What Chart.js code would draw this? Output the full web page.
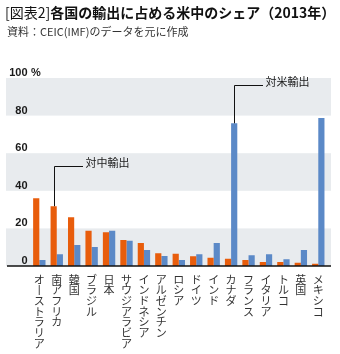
<!DOCTYPE html>
<html lang="ja">
<head>
<meta charset="utf-8">
<script src="https://cdn.jsdelivr.net/npm/chart.js@4.4.1/dist/chart.umd.min.js"></script>
<style>
  html, body { margin: 0; padding: 0; background: #fff; }
  #wrap { position: relative; width: 340px; height: 354px; }
  #title { position: absolute; left: 5px; top: 2px; font: 700 14px "Noto Sans CJK JP"; color: #111; white-space: nowrap; }
  #title .tag { font-weight: 400; }
  #sub { position: absolute; left: 7px; top: 22.5px; font: 11px "Noto Sans CJK JP"; color: #333; white-space: nowrap; }
  canvas { position: absolute; left: 0; top: 0; }
</style>
</head>
<body>
<div id="wrap">
  <canvas id="c" width="340" height="354"></canvas>
  <div id="title"><span class="tag">[図表2]</span>各国の輸出に占める米中のシェア（2013年）</div>
  <div id="sub">資料：CEIC(IMF)のデータを元に作成</div>
</div>
<script>
const categories = ['オーストラリア', '南アフリカ', '韓国', 'ブラジル', '日本', 'サウジアラビア', 'インドネシア', 'アルゼンチン',
  'ロシア', 'ドイツ', 'インド', 'カナダ', 'フランス', 'イタリア', 'トルコ', '英国', 'メキシコ'];
const toChina = [36.0, 31.8, 25.9, 18.8, 17.9, 13.8, 12.2, 6.8, 6.5, 5.2, 4.4, 3.9, 3.2, 2.1, 2.1, 1.8, 1.2];
const toUS = [3.2, 6.2, 11.2, 10.1, 18.8, 13.5, 8.5, 5.3, 3.2, 6.2, 12.2, 75.9, 5.7, 6.2, 3.6, 8.5, 78.7];
const yTicks = [0, 20, 40, 60, 80, 100];
const seriesNames = ['対中輸出', '対米輸出'];

const ORANGE = '#e85d0c';
const BLUE = '#5b89c7';
const BAND = '#e8ebee';
const JP = '"Noto Sans CJK JP", "Noto Sans", sans-serif';

// stack the characters so the labels read top to bottom
const toVertical = s => Array.from(s).map(ch => (ch === 'ー' ? '丨' : ch));

const backdrop = {
  id: 'backdrop',
  beforeDatasetsDraw(chart) {
    const { ctx, chartArea, scales: { y } } = chart;
    const left = 6, right = chartArea.right + 4;
    ctx.save();
    ctx.fillStyle = BAND;
    for (let i = 0; i < yTicks.length - 1; i += 2) {
      const top = y.getPixelForValue(yTicks[i + 1]);
      const bottom = y.getPixelForValue(yTicks[i]);
      ctx.fillRect(left, top, right - left, bottom - top);
    }
    ctx.restore();
  },
  afterDatasetsDraw(chart) {
    const { ctx, chartArea, scales: { y } } = chart;
    ctx.save();

    // base line
    const y0 = y.getPixelForValue(0);
    ctx.strokeStyle = '#111';
    ctx.lineWidth = 1.6;
    ctx.beginPath();
    ctx.moveTo(7, y0);
    ctx.lineTo(chartArea.right + 4, y0);
    ctx.stroke();

    // y tick labels sit above their line
    ctx.fillStyle = '#1a1a1a';
    ctx.font = 'bold 11px "Liberation Sans", Arial, sans-serif';
    ctx.textBaseline = 'alphabetic';
    yTicks.forEach(v => {
      const py = y.getPixelForValue(v) - 2;
      ctx.textAlign = 'right';
      ctx.fillText(String(v), 27.5, py);
      if (v === 100) {
        ctx.textAlign = 'left';
        ctx.fillText('%', 31, py);
      }
    });

    // leader lines for the two series
    const notes = [
      { ds: 0, idx: categories.indexOf('南アフリカ'), at: 53, text: seriesNames[0] },
      { ds: 1, idx: categories.indexOf('カナダ'), at: 96.5, text: seriesNames[1] }
    ];
    ctx.font = '11px ' + JP;
    ctx.textAlign = 'left';
    ctx.textBaseline = 'middle';
    ctx.lineWidth = 1;
    ctx.strokeStyle = '#111';
    notes.forEach(n => {
      const bar = chart.getDatasetMeta(n.ds).data[n.idx];
      const bx = Math.round(bar.x) + 0.5;
      const ly = Math.round(y.getPixelForValue(n.at)) + 0.5;
      ctx.beginPath();
      ctx.moveTo(bx, bar.y);
      ctx.lineTo(bx, ly);
      ctx.lineTo(bx + 28.5, ly);
      ctx.stroke();
      ctx.fillStyle = '#1a1a1a';
      ctx.fillText(n.text, bx + 31, ly - 3.5);
    });
    ctx.restore();
  }
};

new Chart(document.getElementById('c'), {
  type: 'bar',
  data: {
    labels: categories.map(toVertical),
    datasets: [
      { label: seriesNames[0], data: toChina, backgroundColor: ORANGE },
      { label: seriesNames[1], data: toUS, backgroundColor: BLUE }
    ]
  },
  options: {
    responsive: false,
    animation: false,
    devicePixelRatio: 1,
    datasets: { bar: { categoryPercentage: 0.71, barPercentage: 1 } },
    layout: { padding: { top: 78, left: 30.6, right: 13, bottom: -2.7 } },
    plugins: {
      legend: { display: false },
      tooltip: { enabled: false },
      title: { display: false }
    },
    scales: {
      x: {
        grid: { display: false, drawTicks: false },
        border: { display: false },
        ticks: {
          autoSkip: false,
          maxRotation: 0,
          minRotation: 0,
          padding: 8,
          color: '#333',
          font: { family: JP, size: 11, lineHeight: 0.97 }
        }
      },
      y: { display: false, min: 0, max: 100 }
    }
  },
  plugins: [backdrop]
});
</script>
</body>
</html>
